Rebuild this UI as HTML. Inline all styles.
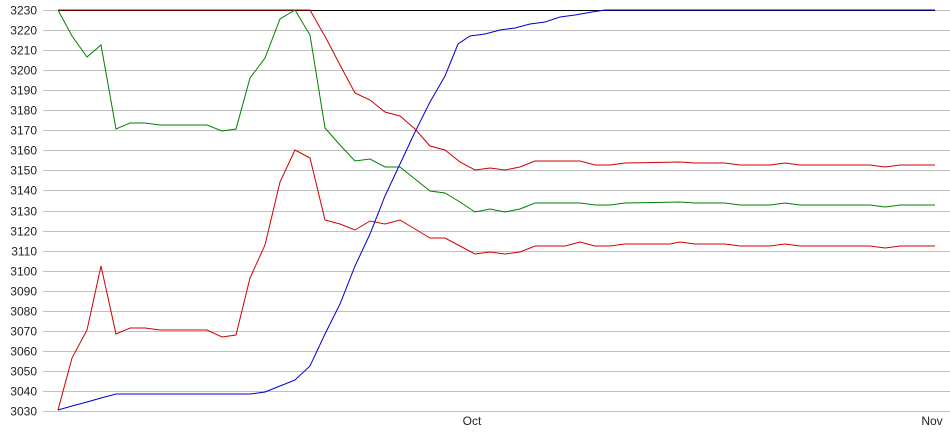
<!DOCTYPE html>
<html><head><meta charset="utf-8"><style>
html,body{margin:0;padding:0;background:#fff;}
svg{display:block;font-family:"Liberation Sans",Arial,sans-serif;font-size:12px;fill:#222;}
</style></head><body>
<svg width="950" height="435" viewBox="0 0 950 435" xmlns="http://www.w3.org/2000/svg">
<g stroke="#c0c0c0" stroke-width="1" id="grid"></g>
<g id="labels" text-anchor="end"></g>
<text x="472" y="425" text-anchor="middle">Oct</text>
<text x="932" y="425" text-anchor="middle">Nov</text>
<g fill="none" stroke-width="1">
<polyline stroke="#000" points="58,10.5 935,10.5"/>
<polyline stroke="#d00000" points="58,10 310,10 327,40 340,65 355,93 370,100 385,112 400,116 415,129 430,146 445,150 460,162 475,170 490,168 505,170 520,167 535,161 580,161 595,165 610,165 625,163 680,162 695,163 725,163 740,165 770,165 785,163 800,165 870,165 885,167 900,165 935,165"/>
<polyline stroke="#008000" points="58,10 72,36 87,57 101,45 116,129 130,123 145,123 160,125 207,125 222,131 236,129 250,78 265,58 280,19 295,10 310,35 325,128 340,145 355,161 370,159 385,167 400,167 415,179 430,191 445,193 460,202 475,212 490,209 505,212 520,209 535,203 580,203 595,205 610,205 625,203 680,202 695,203 725,203 740,205 770,205 785,203 800,205 870,205 885,207 900,205 935,205"/>
<polyline stroke="#d00000" points="58,410 72,358 87,330 101,266 116,334 130,328 145,328 160,330 207,330 222,337 236,335 250,278 265,245 280,182 295,150 310,158 325,220 340,224 355,230 370,221 385,224 400,220 415,229 430,238 445,238 460,246 475,254 490,252 505,254 520,252 535,246 565,246 580,242 595,246 610,246 625,244 670,244 680,242 695,244 725,244 740,246 770,246 785,244 800,246 870,246 885,248 900,246 935,246"/>
<polyline stroke="#0000d0" points="58,410 72,406 87,402 101,398 116,394 250,394 265,392 280,386 295,380 310,366 325,334 340,304 355,266 370,234 385,196 400,164 415,132 430,102 445,76 458,44 470,36 485,34 500,30 515,28 530,24 545,22 560,17 575,15 592,12 605,10 935,10"/>
</g>
<script>
var g=document.getElementById('grid'),l=document.getElementById('labels'),ns='http://www.w3.org/2000/svg';
for(var i=0;i<=20;i++){var y=Math.round(10+i*20.05)+0.5;
var ln=document.createElementNS(ns,'line');ln.setAttribute('x1',43);ln.setAttribute('x2',950);ln.setAttribute('y1',y);ln.setAttribute('y2',y);g.appendChild(ln);
var t=document.createElementNS(ns,'text');t.setAttribute('x',37);t.setAttribute('y',y+4);t.textContent=3230-i*10;l.appendChild(t);}
</script>
</svg>
</body></html>
